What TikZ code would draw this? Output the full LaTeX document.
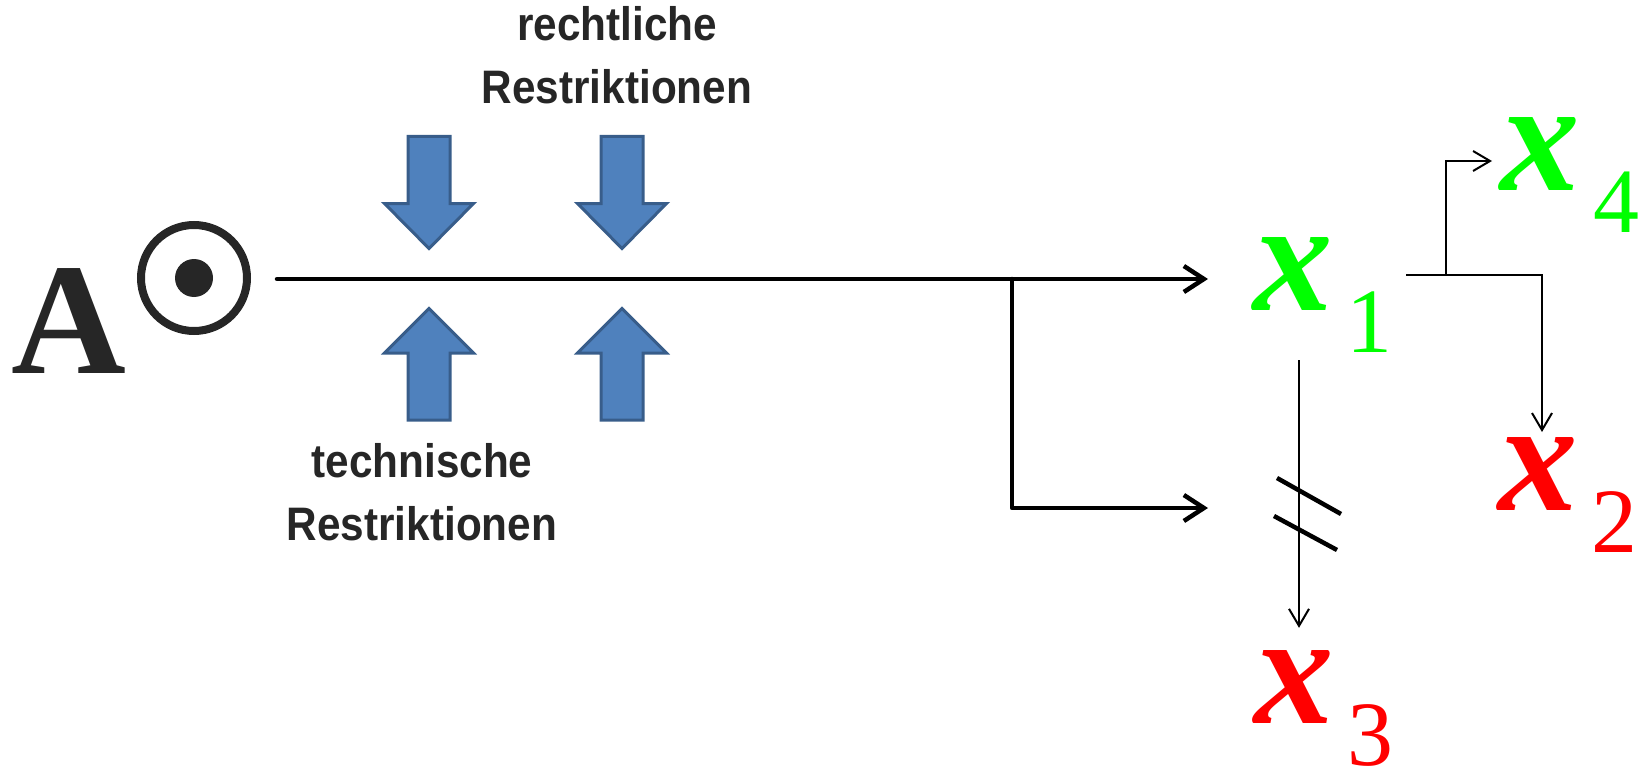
\documentclass[tikz,border=0pt]{standalone}
\usepackage{fontspec}
\setmainfont{Liberation Serif}
\newfontfamily\labelfont{Liberation Sans}
\usetikzlibrary{arrows.meta}

\definecolor{pressfill}{HTML}{4F81BD}
\definecolor{pressedge}{HTML}{385D8A}
\definecolor{darktext}{HTML}{262626}
\definecolor{okgreen}{HTML}{00FF00}
\definecolor{nored}{HTML}{FF0000}

% variable with lowered index
\newcommand{\xvar}[1]{{\fontsize{159}{159}\selectfont\bfseries\itshape x}\kern14pt\raisebox{-42pt}{\fontsize{92}{92}\selectfont #1}}

\tikzset{
  flow/.style={line width=4.5pt, line cap=round, line join=round, -{Straight Barb[length=20pt,width=26pt]}},
  thinflow/.style={line width=2pt, -{Straight Barb[length=17pt,width=20pt]}},
  press/.style={fill=pressfill, draw=pressedge, line width=3pt, line join=miter},
  restr/.style={align=center, inner sep=0pt, text=darktext, xscale=0.9,
    font=\labelfont\bfseries\fontsize{47}{63}\selectfont},
  var/.style={inner sep=0pt, anchor=base west}
}

\begin{document}
\begin{tikzpicture}[x=1pt, y=-1pt]
\useasboundingbox (0,0) rectangle (1652,773);

% source
\node[anchor=base west, inner sep=0pt, text=darktext, font=\bfseries\fontsize{159}{159}\selectfont] (A) at (11,373) {A};
\node[circle, draw=darktext, line width=8pt, minimum size=106pt, inner sep=0pt] (src) at (194,278) {};
\fill[darktext] (src.center) circle (19);

% restrictions
\foreach \cx in {429,622} {
  \draw[press] ({\cx-21},136.5) -- ({\cx+21},136.5) -- ({\cx+21},203.5) -- ({\cx+44.5},203.5)
    -- (\cx,248.5) -- ({\cx-44.5},203.5) -- ({\cx-21},203.5) -- cycle;
  \draw[press] ({\cx-21},420) -- ({\cx+21},420) -- ({\cx+21},353) -- ({\cx+44.5},353)
    -- (\cx,308.5) -- ({\cx-44.5},353) -- ({\cx-21},353) -- cycle;
}
\node[restr, anchor=base] (legal) at (617,103.3) {rechtliche\\Restriktionen};
\node[restr, anchor=base] (tech) at (422,540) {technische\\Restriktionen};

% outcomes
\node[var, text=okgreen] (x1) at (1253,310) {\xvar{1}};
\node[var, text=okgreen] (x4) at (1500,190) {\xvar{4}};
\node[var, text=nored] (x2) at (1498,510) {\xvar{2}};
\node[var, text=nored] (x3) at (1254,723) {\xvar{3}};

\coordinate (split) at (1012,279);
\coordinate (cut) at (1299,508);
\coordinate (drop) at (1299,360);
\coordinate (out) at (1406,275);
\coordinate (up) at (1446,275);
\coordinate (hit2) at (1542,432);
\coordinate (hit4) at (1492,161);

% connectors
\draw[flow, shorten <=26pt, shorten >=45pt] (src.east |- split) -- (split -| x1.west);
\draw[flow, shorten >=91pt] (split) |- (cut);
\draw[thinflow] (out) -| (hit2);
\draw[thinflow] (up) |- (hit4);
\draw[thinflow, shorten >=22pt] (drop) -- (drop |- x3.north);
\draw[line width=4.5pt] (1277,478) -- (1341,514);
\draw[line width=4.5pt] (1274,516) -- (1337,550);
\end{tikzpicture}
\end{document}
